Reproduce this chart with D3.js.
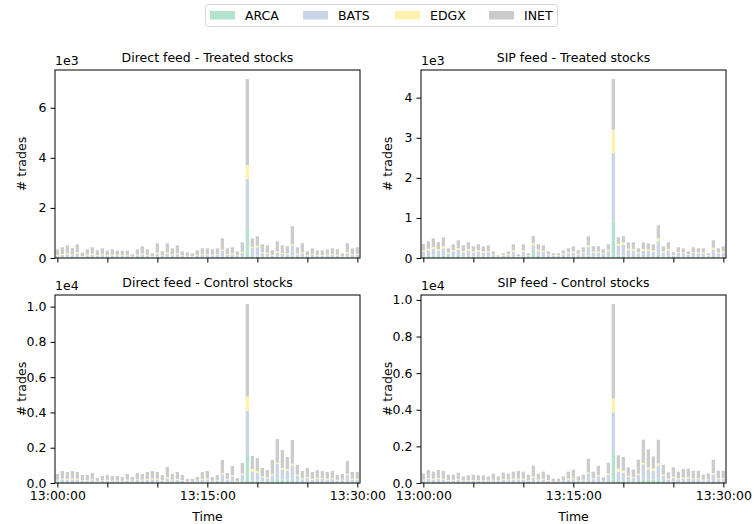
<!DOCTYPE html>
<html>
<head>
<meta charset="utf-8">
<script src="https://cdn.jsdelivr.net/npm/d3@7"></script>
<style>
  body { margin: 0; background: #fff; }
  text { font-family: "DejaVu Sans", sans-serif; fill: #000; }
</style>
</head>
<body>
<svg width="754" height="524"></svg>
<script>
// exchanges, stacked bottom to top
var exchanges = ["ARCA", "BATS", "EDGX", "INET"];
var colors = ["#b3e2cd", "#cbd5e8", "#fff2ae", "#cccccc"];

// Direct feed - Treated stocks (trades per 30 s bin, 13:00:00 .. 13:30:00)
var dtArca = [30,35,45,35,45,20,30,40,25,35, 25,30,25,25,25,15,30,40,30,15, 50,25,50,35,45,25,20,15,25,35, 35,30,35,60,35,40,25,50,1190,80, 90,50,50,30,60,45,40,90,40,50, 25,35,25,25,30,35,30,15,50,35,40];
var dtBats = [70,90,110,85,140,45,75,95,65,80, 60,75,65,60,60,30,75,100,70,40, 120,55,130,80,110,55,50,40,65,85, 80,75,85,220,90,100,60,150,1960,320, 340,140,120,70,160,120,110,390,100,140, 60,85,70,70,80,85,75,40,140,85,95];
var dtEdgx = [30,35,40,30,50,15,30,35,25,35, 25,25,20,20,20,10,30,40,25,15, 50,20,45,30,35,20,15,15,25,30, 30,25,30,50,30,35,20,45,560,50, 55,40,40,25,50,40,40,55,35,45, 20,30,25,25,25,30,25,15,45,30,35];
var dtInet = [217,267,312,250,312,133,212,257,192,237, 183,217,183,188,188,92,212,287,222,117, 367,167,362,242,317,167,142,117,192,237, 242,217,237,457,232,252,162,382,3440,337, 382,317,297,182,397,302,277,732,252,352, 162,237,187,187,212,237,217,117,352,237,257];

// SIP feed - Treated stocks
var stArca = [40,50,60,45,60,30,40,50,35,45, 35,40,35,35,20,10,15,20,40,10, 40,15,150,60,40,20,15,15,25,30, 35,25,30,60,35,35,25,40,910,60, 60,45,45,30,45,45,40,90,35,45, 15,30,30,20,30,30,30,15,50,30,35];
var stBats = [120,140,170,130,180,80,115,150,110,135, 100,120,100,110,55,20,35,60,120,30, 115,40,170,110,110,55,40,40,65,85, 100,65,95,210,100,100,75,130,1710,250, 270,150,140,85,140,130,120,330,100,140, 50,95,85,60,95,85,85,40,160,85,100];
var stEdgx = [35,40,45,40,50,25,35,45,30,40, 30,35,30,30,15,7,20,20,35,10, 35,12,50,35,30,15,12,12,20,25, 30,20,25,50,30,30,20,35,580,50, 55,40,40,25,40,35,35,70,30,40, 15,25,25,15,25,25,25,12,45,25,30];
var stInet = [155,187,217,177,227,107,152,197,142,172, 127,147,127,142,77,30,47,67,147,42, 152,50,180,137,137,77,50,50,82,102, 127,82,117,222,127,127,97,137,1267,157, 157,157,167,102,167,157,147,327,127,167, 62,117,102,72,117,102,102,50,187,102,127];

// Direct feed - Control stocks
var dcArca = [40,55,50,55,50,35,35,45,25,30, 35,30,30,25,40,25,45,40,50,55, 50,35,70,40,50,35,20,20,25,50, 55,25,35,100,45,80,25,90,1650,150, 150,80,70,100,250,200,180,250,100,55, 70,50,60,55,50,55,35,40,100,50,50];
var dcBats = [110,150,140,150,140,100,100,125,60,90, 100,85,85,75,115,75,125,110,140,150, 140,100,200,110,140,100,50,50,75,140, 150,75,110,400,150,300,60,370,2440,475, 420,250,200,335,830,560,500,750,300,160, 220,150,180,165,150,165,110,120,350,150,150];
var dcEdgx = [35,50,50,50,45,30,35,40,20,30, 35,30,30,25,35,25,40,40,45,50, 45,30,65,35,45,30,15,15,25,45, 50,25,30,70,40,60,20,70,815,170, 110,60,60,75,76,95,110,100,65,50, 55,45,50,50,45,50,30,35,75,45,45];
var dcInet = [326,427,385,427,390,290,285,358,179,248, 285,253,253,216,321,216,358,321,390,427, 390,290,574,326,390,290,142,142,216,390, 427,216,280,737,333,526,179,606,5245,739, 740,462,409,797,1344,1020,687,1343,558,417, 507,380,449,412,380,412,280,316,725,380,380];

// SIP feed - Control stocks
var scArca = [40,55,50,55,50,35,35,45,30,35, 35,35,35,30,40,30,45,40,50,50, 50,35,75,40,50,35,20,20,30,50, 55,30,35,100,50,80,25,90,1640,150, 150,80,70,100,240,200,180,240,100,50, 70,50,60,60,55,55,35,40,100,55,55];
var scBats = [110,160,140,160,145,100,100,125,80,90, 100,90,90,80,110,80,125,110,140,145, 140,100,210,110,140,100,50,50,80,140, 160,80,110,410,160,290,70,360,2220,470, 420,250,200,330,780,550,490,730,290,140, 220,150,185,190,160,160,110,125,360,160,160];
var scEdgx = [35,50,45,50,45,30,35,40,25,30, 35,30,30,25,35,25,40,40,45,45, 45,30,70,35,45,30,15,15,25,45, 50,25,30,70,45,60,20,70,760,160, 110,60,60,75,80,95,110,100,65,45, 55,45,50,55,50,50,30,35,75,50,50];
var scInet = [325,445,385,445,415,290,285,355,229,265, 285,265,265,229,325,229,355,320,385,415, 385,290,591,325,385,290,152,152,229,385, 463,229,280,750,365,516,195,590,5160,730, 740,465,398,769,1266,993,676,1296,545,347, 510,375,469,477,408,408,280,328,739,408,408];

var yTicksTreatedDirect = [0, 2000, 4000, 6000];
var yTicksTreatedSip = [0, 1000, 2000, 3000, 4000];
var yTicksControl = [0, 2000, 4000, 6000, 8000, 10000];

// bins: every 30 seconds from 13:00:00
var start = new Date(Date.UTC(2020, 0, 1, 13, 0, 0));
var times = d3.range(dtArca.length).map(function(i) { return d3.utcSecond.offset(start, i * 30); });

var svg = d3.select("svg");
var pw = 305, ph = 188;

var panels = [
  { title: "Direct feed - Treated stocks", x: 55, y: 70, series: [dtArca, dtBats, dtEdgx, dtInet], ticks: yTicksTreatedDirect, exp: 3, bottom: false },
  { title: "SIP feed - Treated stocks", x: 421, y: 70, series: [stArca, stBats, stEdgx, stInet], ticks: yTicksTreatedSip, exp: 3, bottom: false },
  { title: "Direct feed - Control stocks", x: 55, y: 295, series: [dcArca, dcBats, dcEdgx, dcInet], ticks: yTicksControl, exp: 4, bottom: true },
  { title: "SIP feed - Control stocks", x: 421, y: 295, series: [scArca, scBats, scEdgx, scInet], ticks: yTicksControl, exp: 4, bottom: true }
];

var x = d3.scaleUtc()
  .domain([d3.utcSecond.offset(start, -14), d3.utcSecond.offset(start, 1816)])
  .range([0, pw]);

panels.forEach(function(p) {
  var rows = times.map(function(t, i) {
    var r = { t: t };
    exchanges.forEach(function(k, j) { r[k] = p.series[j][i]; });
    return r;
  });
  var stacked = d3.stack().keys(exchanges)(rows);
  var ymax = d3.max(stacked[stacked.length - 1], function(d) { return d[1]; }) * 1.05;
  var y = d3.scaleLinear().domain([0, ymax]).range([ph, 0]);

  var g = svg.append("g").attr("transform", "translate(" + p.x + "," + p.y + ")");

  // bars
  g.selectAll("g.layer")
    .data(stacked)
    .enter()
      .append("g")
      .attr("class", "layer")
      .attr("fill", function(d, i) { return colors[i]; })
      .selectAll("rect")
      .data(function(d) { return d; })
      .enter()
        .append("rect")
        .attr("x", function(d) { return x(d3.utcSecond.offset(d.data.t, -10)); })
        .attr("width", function(d) { return x(d3.utcSecond.offset(d.data.t, 10)) - x(d3.utcSecond.offset(d.data.t, -10)); })
        .attr("y", function(d) { return y(d[1]); })
        .attr("height", function(d) { return y(d[0]) - y(d[1]); });

  // x axis
  var fmt = d3.utcFormat("%H:%M:%S");
  var xAxis = d3.axisBottom(x)
    .ticks(d3.utcMinute.every(5))
    .tickSize(4.5)
    .tickPadding(4)
    .tickFormat(function(d) { return (p.bottom && d.getUTCMinutes() % 15 === 0) ? fmt(d) : ""; });
  var gx = g.append("g").attr("transform", "translate(0," + ph + ")").call(xAxis);

  // y axis
  var yAxis = d3.axisLeft(y)
    .tickValues(p.ticks)
    .tickSize(4.5)
    .tickPadding(4)
    .tickFormat(function(v) { return p.exp === 4 ? d3.format(".1f")(v / 1e4) : d3.format("d")(v / 1e3); });
  var gy = g.append("g").call(yAxis);

  [gx, gy].forEach(function(a) {
    a.select(".domain").remove();
    a.selectAll(".tick line").attr("stroke", "#000").attr("stroke-width", 1);
    a.selectAll(".tick text").style("font-size", "12.5px").style("font-family", "DejaVu Sans").attr("fill", "#000");
  });

  // frame
  g.append("rect")
    .attr("width", pw).attr("height", ph)
    .attr("fill", "none")
    .attr("stroke", "#000")
    .attr("stroke-width", 1);

  // title
  g.append("text")
    .attr("x", pw / 2).attr("y", -8)
    .attr("text-anchor", "middle")
    .style("font-size", "12.5px")
    .text(p.title);

  // offset text
  g.append("text")
    .attr("x", 0).attr("y", -5)
    .style("font-size", "12.5px")
    .text("1e" + p.exp);

  // y label
  g.append("text")
    .attr("transform", "translate(-29," + (ph / 2) + ") rotate(-90)")
    .attr("text-anchor", "middle")
    .style("font-size", "12.5px")
    .text("# trades");

  if (p.bottom) {
    g.append("text")
      .attr("x", pw / 2).attr("y", ph + 38)
      .attr("text-anchor", "middle")
      .style("font-size", "12.5px")
      .text("Time");
  }
});

// legend
var legend = svg.append("g");
legend.append("rect")
  .attr("x", 205.5).attr("y", 4.5)
  .attr("width", 352).attr("height", 22)
  .attr("rx", 3)
  .attr("fill", "#fff")
  .attr("stroke", "#d5d5d5");
var legendX = [210, 303, 395, 489];
exchanges.forEach(function(k, i) {
  legend.append("rect")
    .attr("x", legendX[i]).attr("y", 11)
    .attr("width", 25).attr("height", 8.5)
    .attr("fill", colors[i]);
  legend.append("text")
    .attr("x", legendX[i] + 35).attr("y", 20)
    .style("font-size", "12.5px")
    .text(k);
});
</script>
</body>
</html>
